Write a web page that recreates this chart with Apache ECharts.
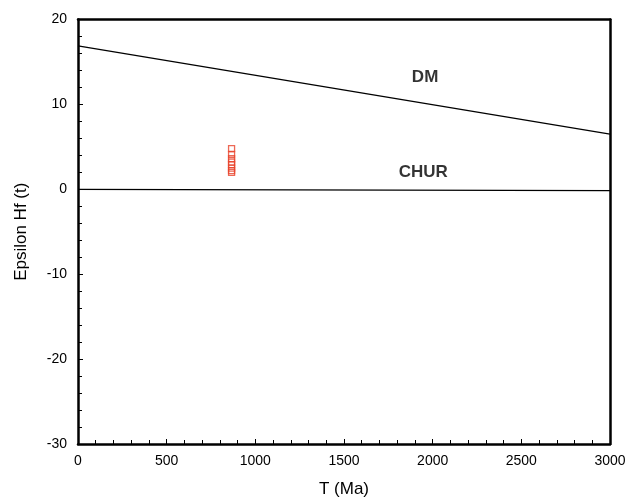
<!DOCTYPE html>
<html><head><meta charset="utf-8">
<script src="https://cdn.jsdelivr.net/npm/echarts@6/dist/echarts.min.js"></script>
<style>html,body{margin:0;padding:0;background:#fff}#c{width:630px;height:503px}</style>
</head><body><div id="c"></div>
<script>
const dmLine = [[0, 16.9], [3000, 6.5]];
const churLine = [[0, 0], [3000, -0.15]];
const sampleAge = [866, 866, 866, 866, 866, 866, 866, 866];
const sampleEps = [4.8, 4.1, 3.6, 3.2, 2.9, 2.5, 2.2, 2.0];
const curveLabels = [{name: 'DM', x: 1960, y: 13.15}, {name: 'CHUR', x: 1950, y: 1.9}];

const F = 'Liberation Sans, Arial, sans-serif';
const chart = echarts.init(document.getElementById('c'));
const axisCommon = {
  axisLine: {show: true, onZero: false, lineStyle: {color: '#000', width: 2.5}},
  axisTick: {show: true, inside: true, length: 5, lineStyle: {color: '#000'}},
  minorTick: {show: true, splitNumber: 5, length: 4, lineStyle: {color: '#000'}},
  splitLine: {show: false}
};
chart.setOption({
  animation: false,
  backgroundColor: '#fff',
  grid: {left: 78, right: 20, top: 19.5, bottom: 56, containLabel: false},
  xAxis: [
    Object.assign({type: 'value', min: 0, max: 3000, interval: 500, position: 'bottom',
      name: 'T (Ma)', nameLocation: 'middle', nameGap: 37,
      nameTextStyle: {fontFamily: F, fontSize: 17, color: '#000'},
      axisLabel: {fontFamily: F, fontSize: 14, color: '#000', margin: 10, formatter: v => String(v)}}, axisCommon),
    Object.assign({type: 'value', min: 0, max: 3000, interval: 500, position: 'top',
      axisLabel: {show: false}}, axisCommon, {axisTick: {show: false}, minorTick: {show: false}})
  ],
  yAxis: [
    Object.assign({type: 'value', min: -30, max: 20, interval: 10, position: 'left',
      name: 'Epsilon Hf (t)', nameLocation: 'middle', nameGap: 48, nameRotate: 90,
      nameTextStyle: {fontFamily: F, fontSize: 17, color: '#000'},
      axisLabel: {fontFamily: F, fontSize: 14, color: '#000', margin: 11}}, axisCommon),
    Object.assign({type: 'value', min: -30, max: 20, interval: 10, position: 'right',
      axisLabel: {show: false}}, axisCommon, {axisTick: {show: false}, minorTick: {show: false}})
  ],
  series: [
    {type: 'line', data: dmLine, symbol: 'none', lineStyle: {color: '#000', width: 1.3}, silent: true},
    {type: 'line', data: churLine, symbol: 'none', lineStyle: {color: '#000', width: 1.3}, silent: true},
    {type: 'scatter', data: sampleAge.map((a, i) => [a, sampleEps[i]]), symbol: 'rect', symbolSize: 6,
      itemStyle: {color: 'rgba(255,255,255,0)', borderColor: '#e8432c', borderWidth: 1.3}},
    {type: 'scatter', data: curveLabels.map(d => ({value: [d.x, d.y], name: d.name})), symbolSize: 1,
      itemStyle: {color: 'rgba(0,0,0,0)'},
      label: {show: true, position: [0, 0], align: 'center', verticalAlign: 'middle', formatter: p => p.name,
        fontFamily: F, fontWeight: 'bold', fontSize: 17, color: '#000'}}
  ]
});
</script></body></html>
